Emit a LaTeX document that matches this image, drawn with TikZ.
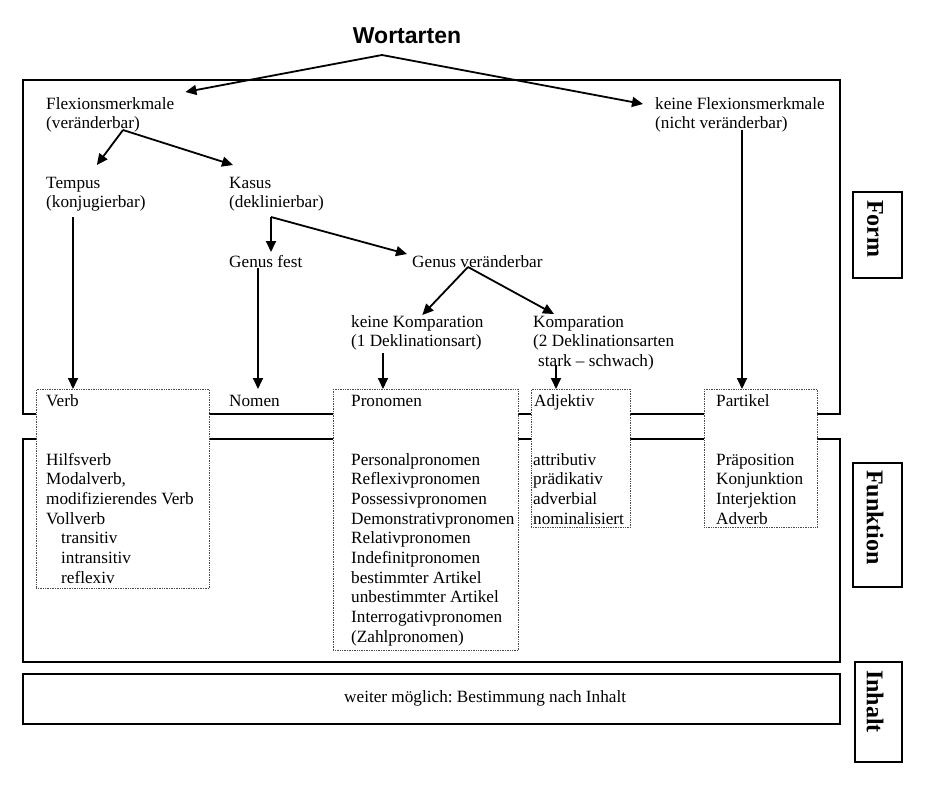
\documentclass[tikz,border=0pt]{standalone}
\usepackage{fontspec}
\setmainfont{Liberation Serif}
\newfontfamily\headfont{Liberation Sans}
\usetikzlibrary{arrows.meta}
\frenchspacing

\newcommand{\rows}[1]{\begin{tabular}[t]{@{}l@{}}#1\end{tabular}}

\tikzset{
  txt/.style={anchor=base west, inner sep=0pt, font=\fontsize{17.2}{19.7}\selectfont},
  frame/.style={draw, line width=1.2pt},
  dotbox/.style={draw=black!70, densely dotted, line width=0.7pt, fill=white, anchor=north west, inner sep=0pt},
  sidelabel/.style={anchor=west, inner sep=0pt, rotate=-90, font=\fontsize{24}{28}\selectfont\bfseries},
  arr/.style={line width=1.8pt, -{Triangle[length=11pt,width=10pt]}},
}

\begin{document}
\begin{tikzpicture}[x=1pt,y=-1pt]

\useasboundingbox (0,0) rectangle (938,790);

% the three frames
\draw[frame] (23,80) rectangle (840,414);
\draw[frame] (23,439) rectangle (840,662);
\draw[frame] (23,674) rectangle (840,724);

% side labels
\draw[frame] (853,192) rectangle (902,278);
\draw[frame] (853,463) rectangle (902,587);
\draw[frame] (855,662) rectangle (902,762);
\node[sidelabel] (form) at (875,200) {Form};
\node[sidelabel] (funktion) at (875,470) {Funktion};
\node[sidelabel] (inhalt) at (875,670) {Inhalt};

% boxes of the word classes
\node[dotbox, minimum width=173, minimum height=199] (verbbox) at (36,389) {};
\node[dotbox, minimum width=185, minimum height=261] (pronbox) at (333,389) {};
\node[dotbox, minimum width=99, minimum height=138] (adjbox) at (531,389) {};
\node[dotbox, minimum width=113, minimum height=138] (partbox) at (704,389) {};

\node[anchor=base, inner sep=0pt, font=\headfont\fontsize{23}{26}\selectfont\bfseries] (wortarten) at (407,43) {Wortarten};

\node[txt] (flex) at (46,109) {\rows{Flexionsmerkmale\\(veränderbar)}};
\node[txt] (kflex) at (655,109) {\rows{keine Flexionsmerkmale\\(nicht veränderbar)}};
\node[txt] (tempus) at (46,188) {\rows{Tempus\\(konjugierbar)}};
\node[txt] (kasus) at (229,188) {\rows{Kasus\\(deklinierbar)}};
\node[txt] (gfest) at (229,267) {\rows{Genus fest}};
\node[txt] (gvar) at (412,267) {\rows{Genus veränderbar}};
\node[txt] (kkomp) at (351,327) {\rows{keine Komparation\\(1 Deklinationsart)}};
\node[txt] (komp) at (533,327) {\rows{Komparation\\(2 Deklinationsarten\\\hspace*{5pt}stark -- schwach)}};

\node[txt] (verb) at (46,406) {Verb};
\node[txt] (nomen) at (229,406) {Nomen};
\node[txt] (pronomen) at (351,406) {Pronomen};
\node[txt] (adjektiv) at (534,406) {Adjektiv};
\node[txt] (partikel) at (716,406) {Partikel};

\node[txt] (verblist) at (46,465) {\rows{Hilfsverb\\Modalverb,\\modifizierendes Verb\\Vollverb\\
  \hspace*{15pt}transitiv\\\hspace*{15pt}intransitiv\\\hspace*{15pt}reflexiv}};
\node[txt] (pronlist) at (351,465) {\rows{Personalpronomen\\Reflexivpronomen\\Possessivpronomen\\
  Demonstrativpronomen\\Relativpronomen\\Indefinitpronomen\\bestimmter Artikel\\
  unbestimmter Artikel\\Interrogativpronomen\\(Zahlpronomen)}};
\node[txt] (adjlist) at (533,465) {\rows{attributiv\\prädikativ\\adverbial\\nominalisiert}};
\node[txt] (partlist) at (716,465) {\rows{Präposition\\Konjunktion\\Interjektion\\Adverb}};

\node[txt, anchor=base west] (inhalttext) at (344,702) {weiter möglich: Bestimmung nach Inhalt};

% branch points
\coordinate (wfork) at (382,55);
\coordinate (ffork) at (123,130);
\coordinate (kfork) at (271,217);
\coordinate (gfork) at (468,267);
\coordinate (tline) at (73,217);
\coordinate (gline) at (258,268);
\coordinate (kkline) at (383,353);
\coordinate (kline) at (556,365);
\coordinate (kfline) at (742,130);

\draw[arr] (wfork) -- ([shift={(11pt,3pt)}]flex.north east);
\draw[arr] (wfork) -- ([shift={(-12pt,-9pt)}]kflex.north west);
\draw[arr] (ffork) -- ([shift={(1pt,9pt)}]tempus.north);
\draw[arr] (ffork) -- ([shift={(4pt,9pt)}]kasus.north west);
\draw[arr] (kfork) -- ([yshift=1pt]gfest.north -| kfork);
\draw[arr] (kfork) -- ([shift={(-5pt,-1pt)}]gvar.north west);
\draw[arr] (gfork) -- ([shift={(5pt,-2pt)}]kkomp.north);
\draw[arr] (gfork) -- ([shift={(21pt,-1pt)}]komp.north west);

\draw[arr] (tline) -- (tline |- verbbox.north);
\draw[arr] (gline) -- (gline |- verbbox.north);
\draw[arr] (kkline) -- (kkline |- pronbox.north);
\draw[arr] (kline) -- (kline |- adjbox.north);
\draw[arr] (kfline) -- (kfline |- partbox.north);

\end{tikzpicture}
\end{document}
